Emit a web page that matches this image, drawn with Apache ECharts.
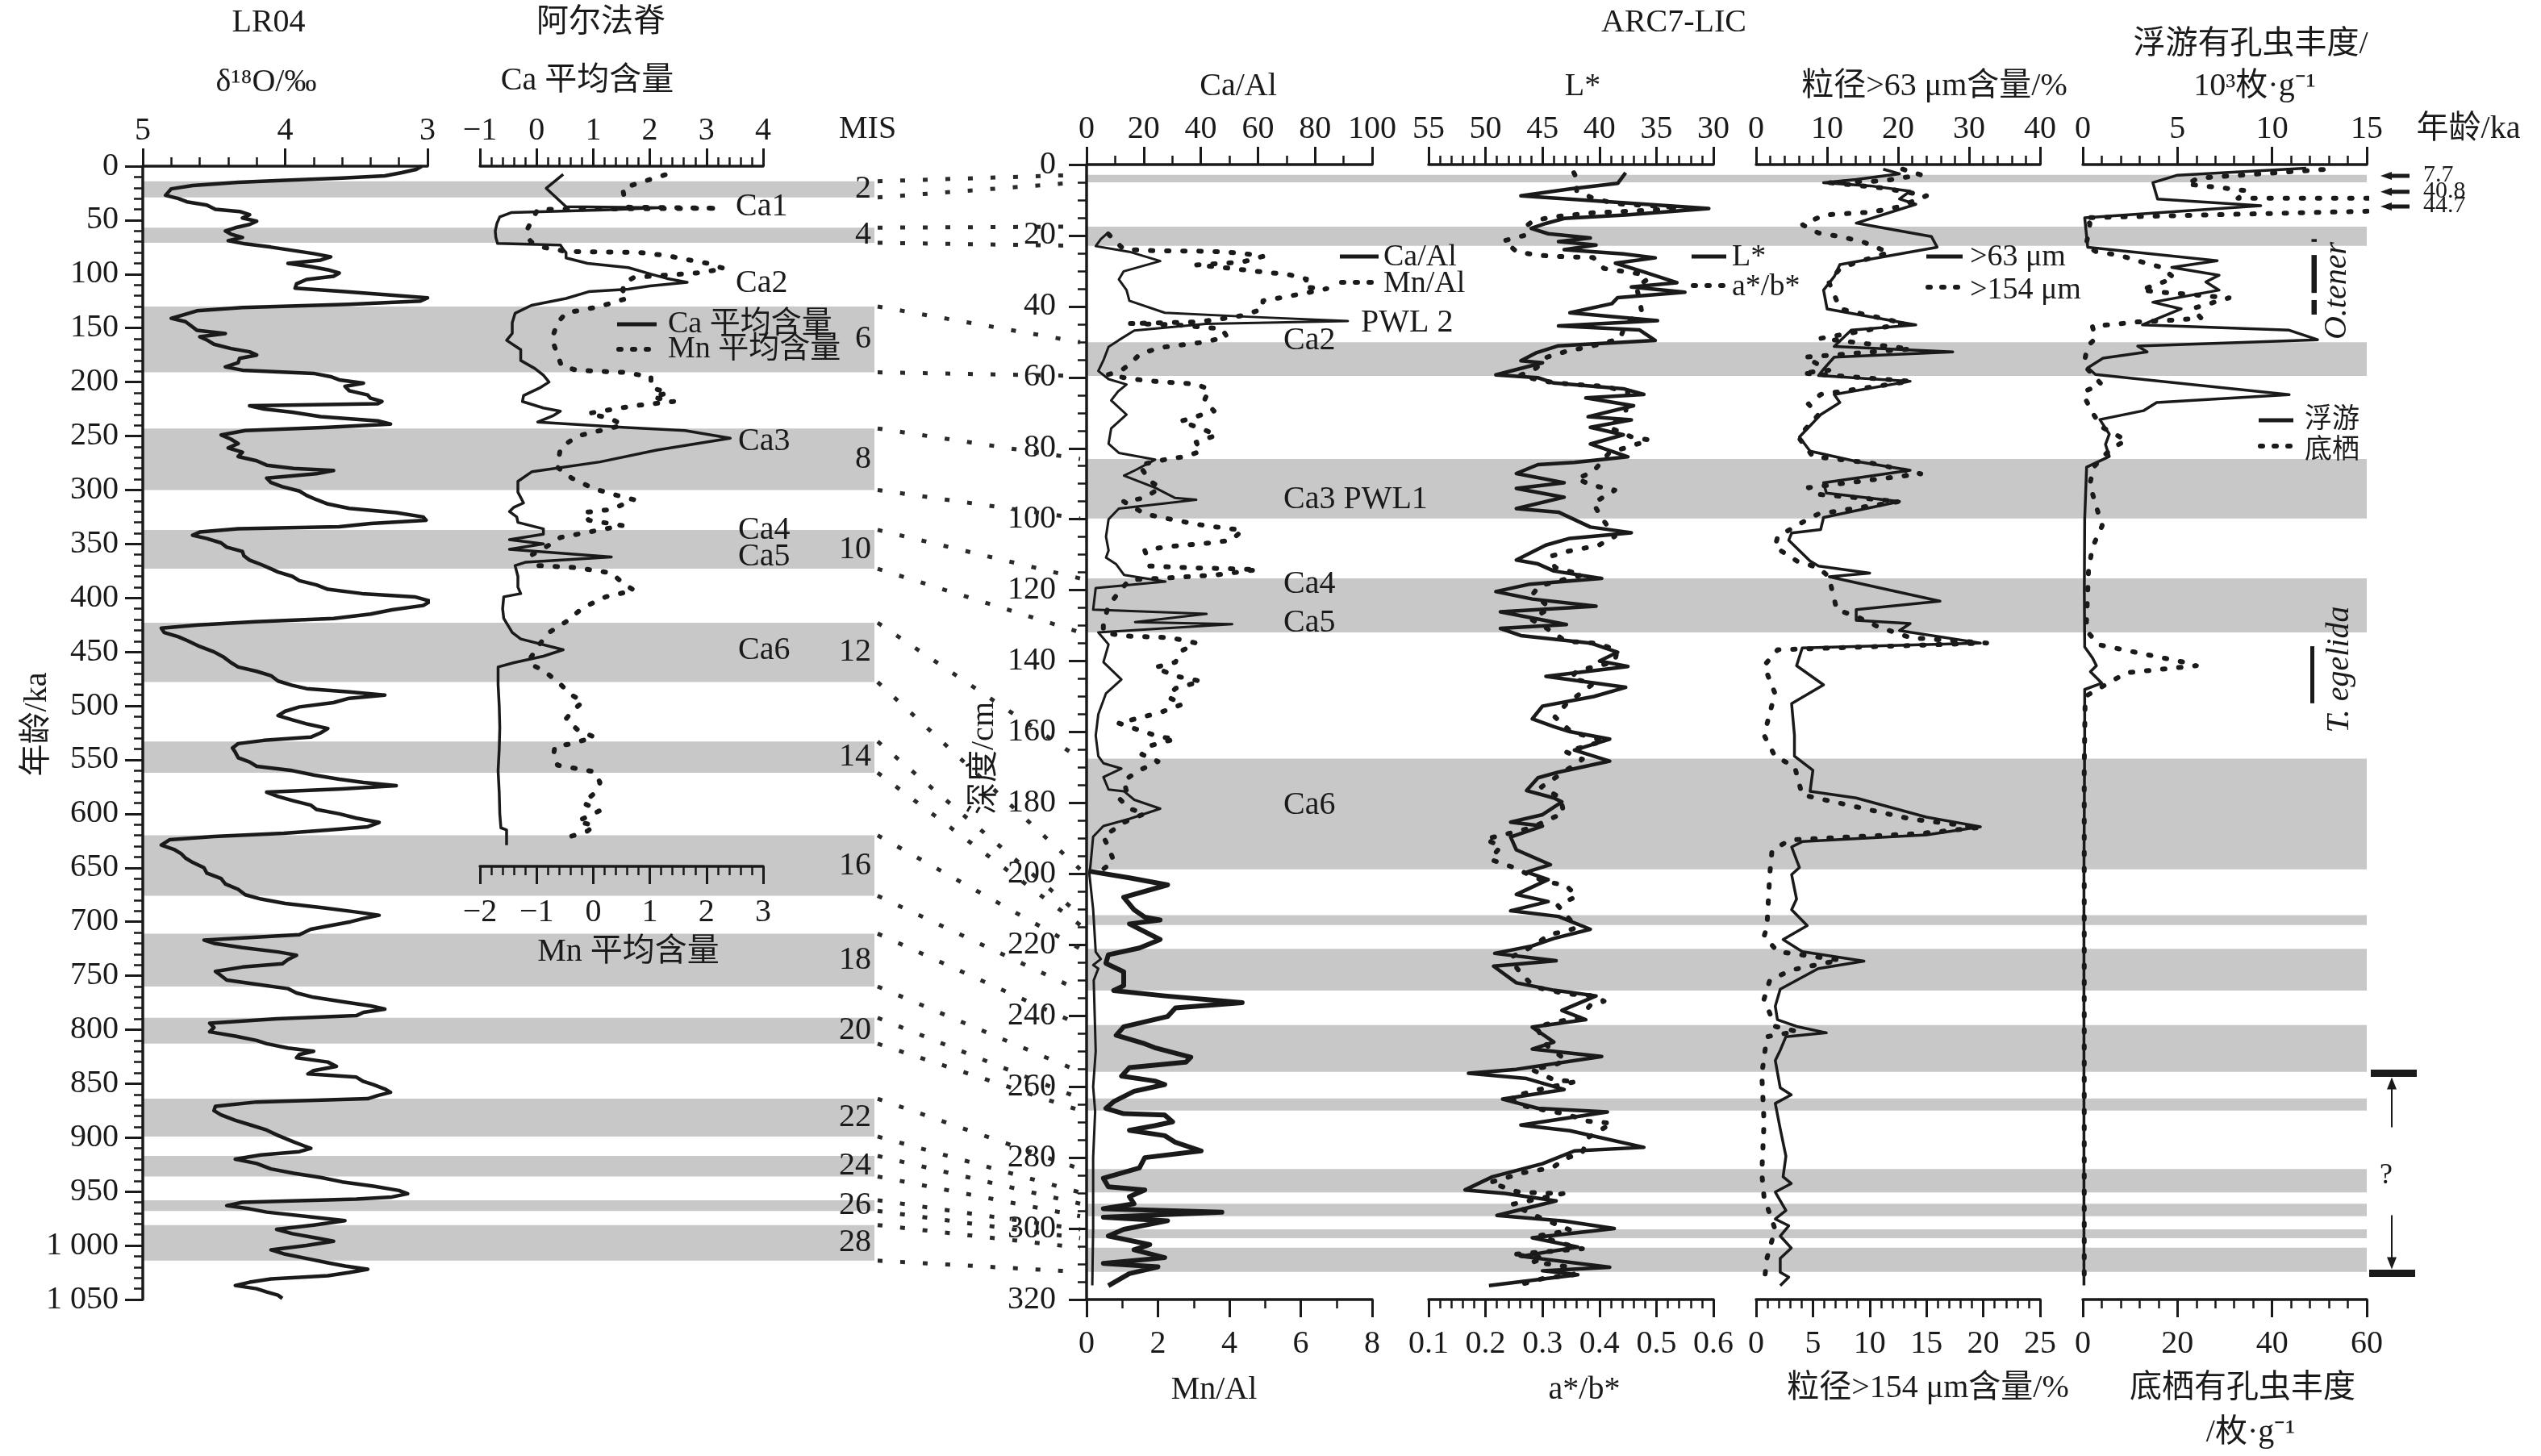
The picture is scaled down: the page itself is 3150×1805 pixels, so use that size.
<!DOCTYPE html>
<html><head><meta charset="utf-8">
<script src="https://cdn.jsdelivr.net/npm/echarts@6.0.0/dist/echarts.min.js"></script>
<style>html,body{margin:0;padding:0;background:#fff}#c{width:3150px;height:1805px}</style>
</head><body><div id="c"></div>
<script>
// ---------------- DATA ----------------
// LR04 benthic stack: [age ka, d18O permil]
const lr04 = [[0,3.04],[3,3.08],[6,3.18],[9,3.3],[11,3.6],[13,4.0],[15,4.33],[18,4.65],[21,4.8],[24,4.82],[27,4.84],[30,4.75],[33,4.69],[36,4.55],[40,4.49],[42,4.32],[45,4.25],[48,4.3],[51,4.2],[54,4.25],[57,4.35],[60,4.42],[63,4.38],[66,4.3],[69,4.4],[72,4.28],[75,4.1],[78,3.95],[81,3.8],[84,3.68],[87,3.75],[90,3.98],[93,3.82],[96,3.7],[99,3.62],[102,3.66],[105,3.85],[109,3.92],[113,3.93],[116,3.6],[119,3.3],[122,3.0],[125,3.05],[128,3.55],[131,4.3],[134,4.62],[138,4.72],[141,4.8],[144,4.7],[148,4.66],[152,4.62],[155,4.42],[158,4.6],[161,4.55],[165,4.5],[169,4.38],[172,4.25],[175,4.2],[178,4.32],[182,4.33],[186,4.42],[189,4.3],[192,3.8],[195,3.68],[198,3.62],[201,3.45],[204,3.58],[208,3.55],[212,3.42],[215,3.4],[218,3.32],[220,3.35],[222,4.25],[225,4.15],[228,3.95],[232,3.75],[236,3.35],[239,3.26],[242,3.7],[245,4.28],[249,4.45],[253,4.38],[257,4.33],[261,4.4],[265,4.3],[269,4.33],[273,4.2],[277,4.13],[280,3.94],[282,3.66],[285,3.78],[289,4.13],[293,4.1],[297,4.02],[301,3.9],[305,3.85],[309,3.78],[313,3.7],[317,3.55],[321,3.22],[325,3.03],[328,3.01],[331,3.4],[334,3.62],[336,4.33],[339,4.6],[342,4.65],[345,4.55],[349,4.45],[353,4.41],[357,4.3],[361,4.29],[365,4.25],[369,4.17],[373,4.1],[376,4.05],[380,3.95],[384,3.9],[388,3.78],[392,3.7],[396,3.46],[399,3.09],[403,2.98],[407,3.03],[411,3.25],[415,3.4],[419,3.66],[422,4.21],[425,4.61],[428,4.87],[432,4.85],[436,4.75],[440,4.68],[445,4.6],[450,4.5],[455,4.43],[460,4.38],[464,4.33],[468,4.2],[472,4.1],[477,4.05],[481,3.95],[484,3.85],[487,3.55],[490,3.3],[493,3.55],[497,3.66],[501,3.9],[505,4.0],[509,4.05],[513,3.95],[517,3.84],[521,3.7],[525,3.75],[529,3.82],[532,4.15],[535,4.33],[539,4.37],[543,4.35],[548,4.33],[552,4.25],[556,4.2],[560,3.95],[564,3.8],[568,3.62],[571,3.45],[574,3.22],[577,3.6],[580,4.13],[584,4.05],[588,3.94],[592,3.82],[596,3.78],[600,3.62],[604,3.5],[608,3.34],[612,3.42],[615,3.7],[618,4.01],[621,4.5],[624,4.81],[629,4.87],[633,4.78],[637,4.73],[641,4.7],[645,4.65],[650,4.57],[655,4.55],[660,4.45],[665,4.42],[670,4.33],[675,4.28],[679,4.17],[683,4.0],[687,3.74],[691,3.5],[694,3.34],[697,3.45],[700,3.54],[704,3.7],[707,3.82],[712,3.9],[715,4.3],[717,4.57],[720,4.5],[724,4.3],[728,4.05],[731,3.92],[735,3.98],[739,4.02],[742,4.3],[746,4.49],[750,4.45],[754,4.41],[758,4.2],[762,3.98],[766,3.92],[770,3.8],[774,3.6],[778,3.4],[781,3.3],[784,3.45],[787,3.5],[790,4.06],[794,4.53],[798,4.5],[802,4.53],[806,4.35],[810,4.2],[813,4.13],[817,3.98],[820,3.8],[823,3.9],[826,3.92],[830,3.7],[834,3.64],[838,3.8],[841,3.84],[844,3.5],[848,3.45],[851,3.38],[855,3.3],[858,3.26],[861,3.35],[864,3.42],[867,4.2],[871,4.49],[875,4.5],[879,4.45],[884,4.35],[888,4.25],[893,4.13],[898,4.05],[904,3.94],[908,3.86],[910,3.82],[913,3.9],[916,4.17],[920,4.35],[924,4.2],[929,4.1],[933,3.94],[937,3.75],[941,3.6],[945,3.38],[949,3.2],[952,3.14],[955,3.25],[957,3.5],[960,4.3],[963,4.41],[966,4.25],[969,4.13],[973,3.85],[977,3.58],[981,3.8],[985,4.06],[989,3.95],[993,3.78],[996,3.66],[1000,3.85],[1004,4.1],[1008,4.0],[1012,3.85],[1016,3.7],[1019,3.58],[1022,3.42],[1025,3.55],[1028,3.7],[1031,4.1],[1034,4.25],[1037,4.35],[1040,4.2],[1043,4.13],[1046,4.05],[1049,4.02]];

// Alpha Ridge mean Ca and Mn: [age ka, value]
const caMean = [[7.5,0.47],[20.5,0.17],[37.5,0.52],[38.5,2.17],[40.5,1.2],[43,-0.45],[47,-0.65],[53,-0.7],[60,-0.73],[66,-0.72],[71.5,-0.69],[73,0.42],[77,0.47],[80,0.52],[85,0.52],[90,0.9],[94,1.62],[100,2.02],[104,2.3],[107.6,2.66],[111,2.0],[113.9,1.62],[116.3,0.92],[122.6,0.52],[128.9,-0.09],[136.3,-0.38],[145,-0.43],[155,-0.43],[161.3,-0.53],[170,-0.28],[180,-0.28],[187.5,-0.03],[193.7,0.12],[200,0.22],[205,0.07],[212.5,-0.23],[218,-0.25],[224,0.12],[227,0.42],[231,0.3],[237,0.02],[242,1.52],[245,2.62],[252,3.42],[263,2.12],[274,1.12],[283,-0.08],[292,-0.33],[302,-0.33],[312,-0.23],[316,-0.4],[320,-0.48],[325,-0.35],[330,-0.33],[336,0.12],[341,0.12],[346,-0.48],[350,0.12],[355,-0.48],[362,1.32],[367,-0.2],[370,-0.38],[380,-0.33],[390,-0.33],[396,-0.28],[399,-0.58],[410,-0.6],[419,-0.58],[432,-0.43],[438,-0.28],[448,0.47],[454,0.12],[460,-0.4],[464,-0.68],[480,-0.68],[500,-0.66],[520,-0.65],[540,-0.66],[560,-0.68],[580,-0.66],[600,-0.65],[613,-0.63],[615,-0.53],[629,-0.53]];
const mnMean = [[8,1.27],[14,0.9],[20.5,0.52],[30,0.55],[38,0.62],[39,2.22],[40,-0.98],[50,-1.08],[60,-1.18],[66,-1.15],[70,-1.1],[75,-0.9],[79,-0.48],[80,0.82],[83,1.32],[87,1.7],[90,2.02],[95,2.32],[99,1.82],[103,0.72],[108,0.55],[115,0.52],[122,0.62],[130,0.12],[136,-0.48],[145,-0.63],[160,-0.73],[175,-0.63],[185,-0.56],[189,-0.3],[191,0.52],[195,1.02],[205,1.02],[210,1.32],[214,1.05],[218,1.42],[222,0.72],[229,-0.08],[234,0.32],[240,0.52],[250,-0.28],[261,-0.58],[279,-0.63],[289,-0.38],[299,0.02],[305,0.42],[309,0.72],[318,0.32],[321,-0.18],[328,-0.08],[333,0.52],[338,0.02],[344,-0.58],[351,-0.78],[360,-1.08],[370,-0.98],[372,-0.28],[377,0.32],[386,0.52],[393,0.72],[399,0.22],[409,-0.18],[422,-0.48],[432,-0.78],[445,-0.98],[455,-1.1],[461,-1.13],[467,-0.88],[480,-0.58],[490,-0.38],[496,-0.18],[504,-0.35],[512,-0.48],[522,-0.28],[529,0.02],[535,-0.38],[538,-0.68],[546,-0.7],[555,-0.63],[561,0.02],[571,0.12],[581,0.02],[590,-0.18],[597,0.12],[607,-0.28],[611,0.02],[616,-0.1],[624,-0.58]];

// ARC7-LIC core: [depth cm, value]
const caAl = [[19.1,7.7],[21,5],[23,3.2],[24.6,15],[27.2,25.8],[30.1,13],[32.4,11.3],[35.4,14],[38.4,15],[41.8,27.4],[42.9,56.2],[44.1,91.5],[44.9,41.8],[46.8,16.7],[49.5,11.3],[51.4,7.7],[55.2,5.9],[58.2,4.1],[60.5,7.7],[62,14],[64,11],[66.5,8.6],[70.5,14],[74.4,8.6],[78.7,7.7],[81.3,11.3],[83.2,24],[86.2,17],[87.7,13.1],[91.1,24],[94,31],[94.5,38.4],[95.5,27.6],[97,11.3],[100,7.7],[104.9,6.8],[108.8,7.7],[110.8,6.8],[112.7,10.4],[115.7,13.1],[117.6,27.6],[119.4,3.2],[125.5,2.3],[126.7,42],[129,17],[129.6,51],[131.9,4.1],[135.3,7.7],[140.3,5.9],[145.2,12.2],[149.1,6.8],[155,4.1],[161,3.2],[166.8,4.1],[168.8,5.9],[170.3,12.2],[172.7,5.9],[176.2,7.7],[176.7,13.1],[179.1,16.7],[181.6,25.8],[184.5,14.9],[186.5,5.9],[189.5,2.3],[197.3,1.4],[200.2,1],[210,2.3],[222,3.2],[224,5],[225.7,2.3],[226.7,4.1],[230,2.5],[250,3.2],[260,2.3],[267,3.0],[280,2.3],[300,2.3],[316,2.0]];
const mnAlUpper = [[19.6,0.61],[23.9,1.04],[24.3,1.91],[24.4,3.07],[24.6,3.79],[25,4.36],[25.9,4.94],[27.5,4.36],[28.3,3.07],[29,3.79],[30.3,4.94],[31,5.65],[32.3,6.16],[34.6,6.09],[35,6.73],[36.2,6.16],[37.4,5.51],[38.4,4.94],[40.7,4.94],[42.6,4.36],[43.7,3.63],[44.4,3.07],[44.8,1.2],[45.2,2.49],[46.3,3.79],[48.5,3.93],[50,3.35],[51.6,2.06],[53.5,1.48],[55.8,1.27],[58,0.98],[59.2,0.61],[60.4,1.2],[61.1,1.91],[61.9,3.07],[63.4,3.43],[66.5,3.3],[69.5,3.57],[72.4,2.63],[74.4,3.21],[76.3,3.64],[78.3,3.07],[80.8,3.21],[82.3,2.78],[83.2,2.19],[84.7,1.48],[89.2,1.77],[91.1,2.06],[94,1.63],[95,1.04],[98.5,1.63],[100,2.35],[101.4,3.07],[102.4,3.79],[103.1,4.36],[105.9,4.07],[106.8,3.35],[107.8,2.19],[108.8,1.63],[110.8,1.7],[113.2,1.77],[113.7,2.92],[113.9,3.79],[114.2,4.79],[115.7,3.64],[116.5,2.35],[117.1,1.2],[120.6,0.9],[124.5,0.61],[129.4,0.47],[131.9,0.47],[132.9,1.04],[133.4,2.35],[134.9,3.07],[137.3,2.63],[140.3,2.49],[141.8,1.91],[144.2,2.49],[145.7,3.21],[147.7,2.49],[150.1,2.27],[152.1,2.7],[154.5,2.06],[156,1.48],[157.5,0.9],[159.5,1.48],[161.4,2.06],[161.9,2.49],[163.9,1.77],[166.3,1.55],[168.3,2.0],[170.8,1.48],[173.7,1.04],[176.7,1.12],[178.6,0.9],[181.6,1.2],[183,1.63],[185.5,1.04],[187.5,0.76],[189.5,0.47],[192.4,0.61],[196.3,0.76],[199.2,0.4]];
const mnAlLower = [[199.2,0.05],[201.1,1.2],[203.1,2.27],[206.6,1.04],[210.1,1.33],[212.2,1.63],[213,2.06],[214.1,1.2],[218.5,2.06],[220.9,1.48],[222.8,0.61],[225.2,0.54],[227.6,1.04],[231.5,1.04],[232.9,0.76],[234.4,2.19],[236.3,4.36],[237.8,2.49],[240.2,2.27],[243.1,1.04],[245.5,0.83],[247.9,1.63],[249,1.91],[251.7,2.92],[253.1,2.78],[254.6,1.2],[257,0.98],[258.4,1.91],[259.4,2.19],[261.3,1.33],[264.2,0.76],[266.1,0.54],[267.6,1.04],[268,2.19],[269.9,2.41],[271,1.91],[272.3,1.2],[273.8,2.19],[275.7,2.49],[278.1,3.21],[280,1.63],[282.9,1.48],[285.8,0.47],[288.2,0.61],[289.1,1.63],[291,1.2],[293,1.33],[294.4,0.47],[295.4,3.79],[296.8,0.47],[297.8,2.27],[300.2,1.04],[302.1,0.61],[304.5,1.77],[306,1.33],[308.2,2.19],[309.8,0.47],[310.8,2.0],[312.7,1.2],[316.1,0.61]];
const lStar = [[2.3,37.7],[5.3,38.4],[6.9,42.6],[8.8,46.9],[12.4,30.4],[14.2,37.7],[15.2,43.1],[16.6,44.7],[18,46],[19.5,44.5],[20.7,40.8],[21.7,43.6],[22.7,40.3],[24,43.1],[25.2,37.9],[26.3,35.1],[27.8,38.6],[30.3,36.1],[33.3,33.2],[34.5,37.2],[36,32.5],[37.5,38.4],[39.2,38.9],[41.8,42.6],[44,34.9],[45.5,43.6],[46.6,36.5],[49.6,35.1],[51.1,43.6],[53,45.5],[55.3,46.9],[55.9,45],[59.3,49.1],[60.1,45.4],[61.6,44],[63.2,37.9],[64.8,36.1],[65.8,41.2],[68,37],[71.1,41],[72,37.2],[74.1,40.8],[76.2,37.9],[78.8,40.8],[82.4,37.5],[84,42.2],[84.6,45.4],[87.1,47.3],[89.7,43.1],[91.3,47.3],[93.8,43.1],[97,47.3],[98,43.6],[102.2,40.8],[103.8,37.2],[105.4,42.6],[107.3,44.7],[111.5,47.3],[112.6,45.4],[114.6,44],[116.7,39.8],[118.3,46.1],[120.4,49.1],[122.5,45.9],[124.5,40.3],[126.1,48.7],[129.7,42.9],[130.8,48.7],[132.8,46.9],[134.9,40.8],[137.5,38.4],[140,40],[141.5,37.5],[144.3,44.7],[147.4,37.7],[150,40.5],[152.7,45],[156.3,45.9],[158.5,44],[159.9,42.6],[162,39.1],[165.1,42.2],[168.2,39.1],[171.3,43.6],[172.9,45.4],[176.5,46.4],[178.6,44],[179.7,43.3],[183.3,45],[185.4,47.8],[186.5,45],[189.6,47.8],[193.2,47.3],[197.4,44.3],[199.5,46.4],[201.6,44.5],[205.8,47.3],[207.8,44.5],[210.4,47.8],[212,43.6],[215.6,40.8],[218.2,44],[220.3,45.9],[222.4,49.2],[224.5,43.8],[226,49.3],[230.7,47.3],[232.8,44],[234.4,40.3],[238.5,43.3],[241.1,41.2],[243.2,45.9],[247.4,44],[249.4,45.9],[251.5,39.8],[255.1,47.3],[256.2,51.5],[257.7,46.4],[260.8,43.1],[263.5,48.5],[266.1,45.4],[267.1,39.3],[270.8,46.9],[272.4,42.6],[277.1,36.1],[278.1,42.2],[281.7,45],[285.4,49.4],[289.1,51.8],[290.1,48.3],[292.2,43.8],[296.3,49],[297.9,43.1],[300,38.7],[302.6,45.9],[305.2,41.9],[307.8,46.9],[310.9,39.1],[311.9,45],[313,41.9],[316.1,49.7]];
const abRatio = [[2.3,0.355],[3.9,0.36],[7.4,0.36],[9.5,0.389],[11,0.427],[12.1,0.54],[12.8,0.5],[13.6,0.389],[14.7,0.322],[15.8,0.284],[17.5,0.27],[19.9,0.27],[21.5,0.232],[24.6,0.255],[25.6,0.294],[26,0.341],[26.2,0.389],[29.3,0.408],[30.9,0.474],[32.4,0.484],[34.5,0.465],[38,0.47],[41.3,0.474],[45,0.446],[49.1,0.436],[51.1,0.389],[52.7,0.341],[54.3,0.308],[57.4,0.289],[59.5,0.26],[61.1,0.303],[61.8,0.341],[62.6,0.412],[64.2,0.45],[69.9,0.446],[74.1,0.417],[76.7,0.455],[77.7,0.488],[81.3,0.417],[86.6,0.389],[88.6,0.36],[90.5,0.389],[91.8,0.427],[95.5,0.389],[98,0.398],[101,0.41],[104.8,0.427],[107.4,0.398],[109,0.346],[110.5,0.313],[113.6,0.322],[115.7,0.37],[118.8,0.294],[120.9,0.284],[125.1,0.313],[128.2,0.28],[130.3,0.303],[134.4,0.341],[135,0.398],[137,0.431],[140.2,0.427],[142.8,0.36],[144.8,0.35],[146.4,0.389],[152.2,0.341],[155.8,0.322],[159.9,0.35],[162.5,0.408],[165.6,0.341],[167.7,0.37],[171.3,0.337],[175.5,0.298],[178.6,0.332],[182.8,0.337],[187,0.28],[188.6,0.241],[190.2,0.199],[192.2,0.227],[195.9,0.208],[198,0.246],[202.1,0.303],[203.2,0.341],[206.3,0.36],[208.9,0.327],[215.1,0.36],[216.2,0.341],[217,0.313],[220.3,0.284],[223.4,0.246],[226.6,0.255],[231.8,0.284],[233.8,0.341],[234.4,0.393],[235.9,0.408],[237,0.384],[240.6,0.365],[241.6,0.327],[243.2,0.289],[248.4,0.308],[252.5,0.341],[254.1,0.318],[255.1,0.28],[258.2,0.322],[258.5,0.36],[260.8,0.294],[262.9,0.246],[265,0.255],[266.6,0.303],[267.7,0.341],[269.7,0.379],[270.3,0.422],[274.4,0.379],[278.6,0.37],[280.2,0.341],[282.8,0.318],[284.3,0.265],[287,0.208],[289.6,0.255],[290,0.298],[290.1,0.337],[293.2,0.246],[296.8,0.294],[300.5,0.35],[302,0.294],[303.6,0.322],[305.7,0.37],[307.3,0.246],[308.3,0.303],[309.4,0.284],[310.9,0.35],[313,0.355],[314,0.303],[315.6,0.265]];
const grain63 = [[1.3,17.9],[2.6,20.2],[4.2,14.1],[5.1,9.5],[6,16.1],[7.5,21.7],[9.7,20.2],[11.2,22.5],[16.5,14.1],[20.3,24.7],[23.3,25.5],[28.2,11.8],[31.6,11],[35.4,9.5],[40.7,10],[44.4,20.2],[45.2,22.5],[46.7,13.4],[51.3,11],[52.8,27.7],[54.3,11],[57.7,9.5],[59.5,8.8],[61.1,21.7],[64.8,11],[67.1,11.8],[70.5,9.1],[76.8,6.1],[80.8,7.6],[83.7,14.1],[86.2,21.7],[89.7,9.5],[92.6,9.9],[95,20.2],[99.5,9.5],[102.9,9.1],[103.9,5],[105.9,4.6],[111.8,7.6],[113.2,8.8],[115.2,16],[116.2,10.3],[123.1,25.9],[125.5,14.1],[128.5,14.1],[129.4,21.7],[131.4,20.2],[134.9,31.6],[136.3,6.5],[141.3,5.7],[146.7,9.5],[152,5],[160.9,5.4],[166.8,5.4],[170.8,8],[176.7,7.6],[178.6,14.1],[184,24],[186.7,31.6],[189,24],[190.9,6.5],[192.4,5],[198.2,6.1],[200.2,5],[207.1,5.7],[210.1,5],[214.6,7.2],[218.5,3.8],[221.9,6.5],[224.6,15.2],[226.7,8.75],[232.5,3.4],[237.3,2.7],[241.1,3.0],[243,5.7],[244.8,9.9],[245.9,4.2],[249.7,3.4],[252.6,2.7],[260.3,3.4],[262.3,4.95],[264.7,2.7],[271.9,3.4],[279.6,4.2],[285.4,3.8],[287.3,4.95],[289.7,2.7],[294.9,4.2],[297.3,2.7],[299.2,4.6],[302.1,3.4],[305.5,4.95],[308.4,3.4],[312.3,3.4],[313.7,4.6],[316.1,3.4]];
const grain154 = [[1.3,12.9],[2.9,14.5],[4.6,11.2],[5.1,6.4],[6.6,11.2],[8.8,15],[11.9,12.6],[13.4,10.2],[14.2,6],[17,4.1],[19.3,5.5],[20.3,7.4],[21.8,9.4],[24.8,11.7],[27.5,8.9],[29.3,7.4],[33.1,6.4],[36.9,6.9],[40.7,7.4],[44.8,13.1],[49,5.7],[52,13.6],[54.3,4.3],[58,6.4],[58.8,4.05],[61.1,13.6],[64.8,5.7],[67.5,4.6],[70.5,5.5],[76.8,3.7],[82.3,5],[84.2,10.2],[87.2,14.5],[91.1,4.6],[93,5.5],[95,12.6],[98.5,5.5],[99.9,4.6],[104.9,1.9],[107.8,1.66],[111.8,3.6],[113.7,5.5],[116.2,6.4],[125.5,7.1],[127.5,8.9],[130.4,10.8],[133.4,13.6],[134.9,20.3],[136.8,1.9],[141.3,0.7],[149.1,1.66],[160.9,0.7],[166.8,1.66],[169.8,3.4],[177.7,4.05],[184.5,13.6],[186.9,19.7],[188.6,14.5],[190.4,3],[193.3,1.4],[200.2,1.2],[215,0.95],[217.6,0.7],[221.9,1.9],[224.3,7.37],[227.1,3.1],[230,1.2],[235.3,0.7],[243,1.67],[244.4,3.57],[245.9,0.95],[256.5,0.5],[270,0.7],[284.4,0.5],[291.2,0.7],[300.2,1.67],[308.4,0.95],[315.6,0.7]];
const planktic = [[1.0,11.8],[3.0,5.0],[5.1,3.7],[9.7,3.95],[11.6,9.4],[15.0,0.1],[23.3,0.26],[27.1,7.1],[29,4.7],[31.2,7.2],[33.1,6.5],[35.4,7.2],[38.8,3.7],[40.7,5.2],[45.2,3.15],[46.7,10.9],[49.4,12.4],[51.2,2.9],[52.8,3.4],[54.6,1.07],[57.3,0.26],[59.2,0.67],[64.9,10.9],[67.1,3.9],[69.4,3.2],[71.9,0.9],[76,1.4],[78.9,1.2],[82.3,1.4],[85.3,0.2],[100,0.1],[120,0.08],[136,0.1],[139,0.5],[141.3,0.72],[143,0.4],[146.2,1.0],[148,0.1],[160,0.1],[200,0.06],[250,0.06],[316,0.06]];
const benthic = [[1.4,50.8],[2.2,42],[3.8,24.5],[5.5,21.9],[6.5,29],[7.4,34.7],[9.5,32.8],[9.5,62],[13.1,62],[15.0,0.3],[16.6,1.5],[22.9,0.7],[24.5,2.7],[25.6,7.8],[27.4,12.3],[29.0,16.7],[32.0,19.3],[35.4,12.3],[36.1,17.4],[36.5,21.8],[37.6,30.9],[40.6,23.2],[43.3,25],[43.8,20],[44.4,11.1],[45.1,6.5],[45.5,2],[49.0,2.7],[51.2,1],[56.5,0.2],[61.9,3.9],[64,0.3],[66,0.5],[70.5,2.3],[74,4],[77.8,9.2],[80,6],[85.3,2.3],[90,1.5],[95,2.5],[101.8,4.1],[108,2],[114.7,1.2],[131.3,0.7],[135.4,3.4],[140.4,21.7],[141.3,24],[143.3,9.2],[147.2,4.1],[150,0.5],[170,0.3],[316,0.3]];

// Stage bands (ages, ka) and their correlated depth bands (cm)
const misLabels = ['2','4','6','8','10','12','14','16','18','20','22','24','26','28'];
const misAgeBands = [[14,29],[57,71],[130,191],[243,300],[337,373],[423,478],[533,562],[620,676],[711,760],[789,813],[864,899],[917,936],[958,968],[981,1014]];
const depthBands = [[2.9,5.0],[17.5,22.9],[50.1,59.6],[83.0,99.8],[116.7,131.9],[167.5,198.7],[211.6,214.4],[221.1,232.9],[242.6,255.8],[263.3,266.7],[283.2,289.8],[293.0,296.5],[300.2,302.7],[305.4,312.2]];
// dated levels (depth cm) with ages
const datedDepths = [3.2, 7.7, 11.8];
const datedAges = ['7.7','40.8','44.7'];
const oTenerDepths = [[21.0,21.8],[25.5,36.2],[38.2,42.3]];
const tEgelidaDepths = [[135.8,151.9]];
const gapMarkerDepths = [256.2, 312.6];

// ---------------- STYLE ----------------
const FONT = "'Liberation Serif','Noto Sans CJK SC',serif";
const INK = '#1a1a1a';
const BAND = '#c8c8c8';
const FS = 40;
const DOT = {width: 6, type: [3, 17], cap: 'round'};

const chart = echarts.init(document.getElementById('c'), null, {width: 3150, height: 1805});

const minus = v => String(v).replace('-', '\u2212');
function xAx(grid, pos, min, max, interval, minor, extra) {
  return Object.assign({
    type: 'value', gridIndex: grid, position: pos, min, max, interval, z: 10,
    axisLine: {show: true, onZero: false, lineStyle: {color: INK, width: 3.5}},
    axisTick: {show: true, inside: false, length: 22, lineStyle: {color: INK, width: 3}},
    minorTick: {show: true, splitNumber: minor, length: 11, lineStyle: {color: INK, width: 2.5}},
    splitLine: {show: false}, minorSplitLine: {show: false},
    axisLabel: {show: true, fontSize: FS, fontFamily: FONT, color: INK, margin: pos === 'top' ? 24 : 35, formatter: minus}
  }, extra || {});
}
function hid(grid, min, max, inverse) {
  return {type: 'value', gridIndex: grid, min, max, inverse: !!inverse, show: false,
          axisLine: {onZero: false}, splitLine: {show: false}};
}
const grids = [
  {left: 177, top: 206, width: 907, height: 1405},   // 0 band (age)
  {left: 177, top: 206, width: 353, height: 1405},   // 1 LR04
  {left: 595, top: 206, width: 351, height: 1405},   // 2 Ca mean
  {left: 595, top: 206, width: 351, height: 868},    // 3 Mn mean
  {left: 1347, top: 204, width: 1587, height: 1407}, // 4 band (depth)
  {left: 1347, top: 204, width: 354, height: 1407},  // 5 Ca/Al Mn/Al
  {left: 1771, top: 204, width: 353, height: 1407},  // 6 L* a*/b*
  {left: 2177, top: 204, width: 352, height: 1407},  // 7 grain size
  {left: 2582, top: 204, width: 352, height: 1407}   // 8 forams
].map(g => Object.assign({show: false, containLabel: false, outerBoundsMode: 'none'}, g));

const xAxes = [
  hid(0, 0, 1),
  xAx(1, 'top', 3, 5, 1, 5, {inverse: true}),
  xAx(2, 'top', -1, 4, 1, 5),
  xAx(3, 'bottom', -2, 3, 1, 5, {axisLabel: {fontSize: FS, fontFamily: FONT, color: INK, margin: 37, formatter: minus}}),
  hid(4, 0, 1),
  xAx(5, 'top', 0, 100, 20, 2),
  xAx(5, 'bottom', 0, 8, 2, 2),
  xAx(6, 'top', 30, 55, 5, 5, {inverse: true}),
  xAx(6, 'bottom', 0.1, 0.6, 0.1, 5, {axisLabel: {fontSize: FS, fontFamily: FONT, color: INK, margin: 35, formatter: v => v.toFixed(1)}}),
  xAx(7, 'top', 0, 40, 10, 5),
  xAx(7, 'bottom', 0, 25, 5, 5),
  xAx(8, 'top', 0, 15, 5, 5),
  xAx(8, 'bottom', 0, 60, 20, 5)
];
const ageFmt = v => v >= 1000 ? Math.floor(v / 1000) + ' ' + String(v % 1000).padStart(3, '0') : String(v);
const yAxes = [
  hid(0, 0, 1050, true),
  {type: 'value', gridIndex: 1, position: 'left', inverse: true, min: 0, max: 1050, interval: 50, z: 10,
   axisLine: {show: true, onZero: false, lineStyle: {color: INK, width: 3.5}},
   axisTick: {show: true, inside: false, length: 22, lineStyle: {color: INK, width: 3}},
   minorTick: {show: true, splitNumber: 5, length: 11, lineStyle: {color: INK, width: 2.5}},
   splitLine: {show: false}, minorSplitLine: {show: false},
   axisLabel: {fontSize: FS, fontFamily: FONT, color: INK, margin: 30, formatter: ageFmt}},
  hid(2, 0, 1050, true),
  hid(3, 0, 1050 * 868 / 1405, true),
  hid(4, 0, 320, true),
  {type: 'value', gridIndex: 5, position: 'left', inverse: true, min: 0, max: 320, interval: 20, z: 10,
   axisLine: {show: true, onZero: false, lineStyle: {color: INK, width: 3.5}},
   axisTick: {show: true, inside: false, length: 22, lineStyle: {color: INK, width: 3}},
   minorTick: {show: true, splitNumber: 4, length: 11, lineStyle: {color: INK, width: 2.5}},
   splitLine: {show: false}, minorSplitLine: {show: false},
   axisLabel: {fontSize: FS, fontFamily: FONT, color: INK, margin: 38}},
  hid(6, 0, 320, true),
  hid(7, 0, 320, true),
  hid(8, 0, 320, true)
];

function S(xi, yi, pairs, style, extra) {
  return Object.assign({
    type: 'line', xAxisIndex: xi, yAxisIndex: yi, data: pairs.map(p => [p[1], p[0]]),
    symbol: 'none', showSymbol: false, silent: true, z: 5, animation: false,
    lineStyle: Object.assign({color: INK, width: 3.5, join: 'round'}, style)
  }, extra || {});
}
function bandSeries(xi, yi, bands) {
  return {type: 'line', xAxisIndex: xi, yAxisIndex: yi, data: [[0, bands[0][0]]], symbol: 'none',
    lineStyle: {opacity: 0}, silent: true, z: 1, animation: false,
    markArea: {silent: true, itemStyle: {color: BAND, borderWidth: 0}, label: {show: false},
      data: bands.map(b => [{yAxis: b[0]}, {yAxis: b[1]}])}};
}

const series = [
  bandSeries(0, 0, misAgeBands),
  bandSeries(4, 4, depthBands),
  S(1, 1, lr04, {width: 4.5}, {clip: false}),
  S(2, 2, caMean, {width: 3.5}),
  S(3, 3, mnMean, DOT),
  S(5, 5, caAl, {width: 3}),
  S(6, 5, mnAlUpper, DOT),
  S(6, 5, mnAlLower, {width: 6}),
  S(7, 6, lStar, {width: 4.5}),
  S(8, 6, abRatio, DOT),
  S(9, 7, grain63, {width: 3.5}),
  S(10, 7, grain154, DOT),
  S(11, 8, planktic, {width: 3.5}),
  S(12, 8, benthic, DOT, {clip: true})
];

chart.setOption({animation: false, backgroundColor: '#fff', grid: grids, xAxis: xAxes, yAxis: yAxes, series});

// ---------------- ANNOTATIONS ----------------
const P = (xi, yi, x, y) => chart.convertToPixel({xAxisIndex: xi, yAxisIndex: yi}, [x, y]);
const ageY = a => P(0, 0, 0, a)[1];
const depY = d => P(4, 4, 0, d)[1];
const bandLeftEnd = P(0, 0, 1, 0)[0];
const depthAxisX = P(4, 4, 0, 0)[0];
const foramRight = P(4, 4, 1, 0)[0];

const els = [];
function text(s, x, y, o) {
  o = o || {};
  const size = o.size || FS;
  els.push({type: 'text', x, y, rotation: o.rot || 0, z: 60, silent: true,
    style: {text: s, x: 0, y: 0, fill: INK,
      font: (o.italic ? 'italic ' : '') + size + 'px ' + FONT,
      align: o.align || 'center', textAlign: o.align || 'center',
      verticalAlign: 'middle', textVerticalAlign: 'middle'}});
}
function seg(x1, y1, x2, y2, st) {
  els.push({type: 'line', z: 55, silent: true, shape: {x1, y1, x2, y2},
    style: Object.assign({stroke: INK, lineWidth: 3.5}, st)});
}
function rect(x, y, w, h) {
  els.push({type: 'rect', z: 55, silent: true, shape: {x, y, width: w, height: h}, style: {fill: INK}});
}
function poly(pts) {
  els.push({type: 'polygon', z: 55, silent: true, shape: {points: pts}, style: {fill: INK}});
}
const dotLeg = {lineWidth: 6, lineDash: [3, 14], lineCap: 'round'};
const connStyle = {lineWidth: 5, lineDash: [6, 22], stroke: '#2a2a2a'};

// correlation lines between stage boundaries and core depths
misAgeBands.forEach((b, i) => {
  [0, 1].forEach(k => seg(bandLeftEnd + 4, ageY(b[k]), depthAxisX - 8, depY(depthBands[i][k]), connStyle));
  text(misLabels[i], 1080, ageY((b[0] + b[1]) / 2), {align: 'right'});
});

// titles
text('LR04', 333, 28); text('阿尔法脊', 745, 28);
text('δ¹⁸O/‰', 330, 102); text('Ca 平均含量', 728, 100);
text('MIS', 1040, 160, {align: 'left'});
text('ARC7-LIC', 2075, 28);
text('Ca/Al', 1535, 107); text('L*', 1962, 107); text('粒径>63 μm含量/%', 2398, 107);
text('浮游有孔虫丰度/', 2790, 55); text('10³枚·g⁻¹', 2795, 107);
text('年龄/ka', 3060, 160);
text('Mn 平均含量', 779, 1180);
text('Mn/Al', 1505, 1723); text('a*/b*', 1964, 1723);
text('粒径>154 μm含量/%', 2390, 1721); text('底栖有孔虫丰度', 2780, 1721); text('/枚·g⁻¹', 2790, 1776);
text('年龄/ka', 46, 898, {rot: Math.PI / 2});
text('深度/cm', 1220, 940, {rot: Math.PI / 2});

// peak annotations
[['Ca1', 912, 256], ['Ca2', 912, 351], ['Ca3', 915, 547], ['Ca4', 915, 657], ['Ca5', 915, 690], ['Ca6', 915, 806],
 ['PWL 2', 1687, 400], ['Ca2', 1591, 422], ['Ca3 PWL1', 1591, 619], ['Ca4', 1591, 724], ['Ca5', 1591, 772], ['Ca6', 1591, 998]]
  .forEach(t => text(t[0], t[1], t[2], {align: 'left'}));

// legends
seg(765, 402, 814, 402, {lineWidth: 5}); text('Ca 平均含量', 828, 402, {align: 'left', size: 38});
seg(767, 433, 814, 433, dotLeg); text('Mn 平均含量', 828, 433, {align: 'left', size: 38});
seg(1661, 318, 1709, 318, {lineWidth: 5}); text('Ca/Al', 1715, 319, {align: 'left', size: 38});
seg(1663, 350, 1707, 350, dotLeg); text('Mn/Al', 1715, 352, {align: 'left', size: 38});
seg(2097, 318, 2140, 318, {lineWidth: 5}); text('L*', 2147, 319, {align: 'left', size: 38});
seg(2099, 354, 2138, 354, dotLeg); text('a*/b*', 2147, 356, {align: 'left', size: 38});
seg(2388, 318, 2433, 318, {lineWidth: 5}); text('>63 μm', 2442, 319, {align: 'left', size: 38});
seg(2390, 356, 2431, 356, dotLeg); text('>154 μm', 2442, 360, {align: 'left', size: 38});
seg(2800, 521, 2843, 521, {lineWidth: 5}); text('浮游', 2857, 521, {align: 'left', size: 34});
seg(2802, 553, 2843, 553, dotLeg); text('底栖', 2857, 559, {align: 'left', size: 34});

// dated levels arrows
datedDepths.forEach((d, i) => {
  const y = depY(d), x0 = foramRight + 17;
  poly([[x0, y], [x0 + 14, y - 5], [x0 + 14, y - 2.5], [x0 + 36, y - 2.5], [x0 + 36, y + 2.5], [x0 + 14, y + 2.5], [x0 + 14, y + 5]]);
  text(datedAges[i], x0 + 53, y - 1, {align: 'left', size: 30});
});

// species ranges
oTenerDepths.forEach(r => rect(2865.5, depY(r[0]), 6.5, depY(r[1]) - depY(r[0])));
text('O.tener', 2897, depY(35.6), {rot: Math.PI / 2, italic: true});
tEgelidaDepths.forEach(r => rect(2864, depY(r[0]), 5, depY(r[1]) - depY(r[0])));
text('T. egelida', 2900, depY(142.4), {rot: Math.PI / 2, italic: true});

// hiatus / uncertain interval marker
const gy1 = depY(gapMarkerDepths[0]), gy2 = depY(gapMarkerDepths[1]);
rect(2939, gy1 - 4.5, 57, 9); rect(2937, gy2 - 4.5, 57, 9);
const ax = 2965;
seg(ax, gy1 + 18, ax, gy1 + 67, {lineWidth: 2});
poly([[ax, gy1 + 5], [ax - 6, gy1 + 20], [ax + 6, gy1 + 20]]);
seg(ax, gy2 - 72, ax, gy2 - 18, {lineWidth: 2});
poly([[ax, gy2 - 5], [ax - 6, gy2 - 20], [ax + 6, gy2 - 20]]);
text('?', 2958, (gy1 + gy2) / 2 + 3, {size: 36});

chart.setOption({graphic: {elements: els}});
</script></body></html>
